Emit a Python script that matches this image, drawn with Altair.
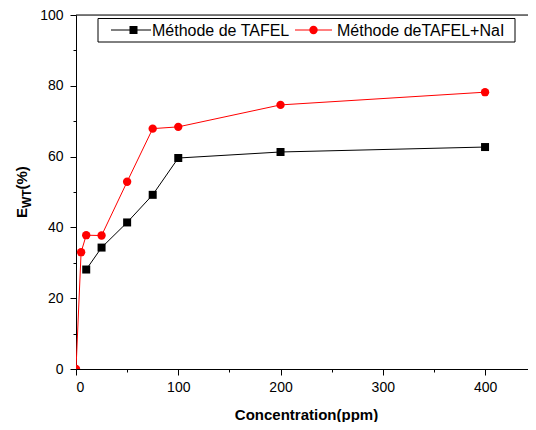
import altair as alt
import pandas as pd

# ---- data ----
conc_tafel = [10, 25, 50, 75, 100, 200, 400]
ewt_tafel = [28.1, 34.3, 41.4, 49.2, 59.6, 61.3, 62.7]
conc_nai = [0, 5, 10, 25, 50, 75, 100, 200, 400]
ewt_nai = [0, 33.0, 37.8, 37.7, 52.9, 67.9, 68.4, 74.6, 78.2]
series_names = ["Méthode de TAFEL", "Méthode deTAFEL+NaI"]
x_ticks = [0, 100, 200, 300, 400]
x_minor = [50, 150, 250, 350]
y_ticks = [0, 20, 40, 60, 80, 100]
y_minor = [10, 30, 50, 70, 90]
x_title = "Concentration(ppm)"
y_title_parts = ["E", "WT", "(%)"]

W, H = 452, 354
X_MAX = 442
FONT = "Liberation Sans"

df_t = pd.DataFrame({"c": conc_tafel, "e": ewt_tafel})
df_n = pd.DataFrame({"c": conc_nai, "e": ewt_nai})
one = alt.Data(values=[{}])

xs = alt.Scale(domain=[0, X_MAX], nice=False, zero=False)
ys = alt.Scale(domain=[0, 100], nice=False, zero=False)

x_axis = alt.Axis(values=x_ticks, tickSize=6, tickColor="black", domainColor="black",
                  labelFont=FONT, labelFontSize=14, labelColor="black", labelPadding=5,
                  title=x_title, titleFont=FONT, titleFontSize=15, titleFontWeight="bold",
                  titleColor="black", titleX=230, titleY=50, titleBaseline="alphabetic",
                  titleAlign="center", grid=False, format="d", orient="bottom")
y_axis = alt.Axis(values=y_ticks, tickSize=6, tickColor="black", domainColor="black",
                  labelFont=FONT, labelFontSize=14, labelColor="black", labelPadding=7,
                  title=None, grid=False, format="d", orient="left")
x_minor_axis = alt.Axis(values=x_minor, tickSize=3, tickColor="black", domain=False,
                        labels=False, title=None, grid=False, orient="bottom")
y_minor_axis = alt.Axis(values=y_minor, tickSize=3, tickColor="black", domain=False,
                        labels=False, title=None, grid=False, orient="left")

minor = alt.Chart(df_t).mark_line(opacity=0).encode(
    x=alt.X("c:Q", scale=xs, axis=x_minor_axis),
    y=alt.Y("e:Q", scale=ys, axis=y_minor_axis),
)
line_t = alt.Chart(df_t).mark_line(color="black", strokeWidth=1, clip=True).encode(
    x=alt.X("c:Q", scale=xs, axis=x_axis),
    y=alt.Y("e:Q", scale=ys, axis=y_axis),
)
pts_t = alt.Chart(df_t).mark_point(shape="square", filled=True, size=64, color="black",
                                   opacity=1, clip=True).encode(
    x=alt.X("c:Q", scale=xs, axis=None), y=alt.Y("e:Q", scale=ys, axis=None))
line_n = alt.Chart(df_n).mark_line(color="#ff0000", strokeWidth=1, clip=True).encode(
    x=alt.X("c:Q", scale=xs, axis=None), y=alt.Y("e:Q", scale=ys, axis=None))
pts_n = alt.Chart(df_n).mark_point(shape="circle", filled=True, size=70, color="#ff0000",
                                   opacity=1, clip=True).encode(
    x=alt.X("c:Q", scale=xs, axis=None), y=alt.Y("e:Q", scale=ys, axis=None))

# top frame line
top = alt.Chart(one).mark_rule(color="black", strokeWidth=1).encode(
    x=alt.value(0), x2=alt.value(W), y=alt.value(0))

# legend
leg_box = alt.Chart(one).mark_rect(fill="white", stroke="black", strokeWidth=1).encode(
    x=alt.value(22), x2=alt.value(439), y=alt.value(3.5), y2=alt.value(27))
leg_l1 = alt.Chart(one).mark_rule(color="black", strokeWidth=1).encode(
    x=alt.value(35), x2=alt.value(75), y=alt.value(15))
leg_p1 = alt.Chart(one).mark_point(shape="square", filled=True, size=64, color="black",
                                   opacity=1).encode(x=alt.value(57.5), y=alt.value(15))
leg_t1 = alt.Chart(one).mark_text(align="left", baseline="middle", font=FONT, fontSize=16,
                                  color="black").encode(
    x=alt.value(76), y=alt.value(15.5), text=alt.value(series_names[0]))
leg_l2 = alt.Chart(one).mark_rule(color="#ff0000", strokeWidth=1).encode(
    x=alt.value(219), x2=alt.value(256), y=alt.value(15))
leg_p2 = alt.Chart(one).mark_point(shape="circle", filled=True, size=70, color="#ff0000",
                                   opacity=1).encode(x=alt.value(237.5), y=alt.value(15))
leg_t2 = alt.Chart(one).mark_text(align="left", baseline="middle", font=FONT, fontSize=16,
                                  color="black").encode(
    x=alt.value(261), y=alt.value(15.5), text=alt.value(series_names[1]))

# y title with subscript
yt_e = alt.Chart(one).mark_text(angle=270, align="left", baseline="alphabetic", font=FONT,
                                fontSize=15, fontWeight="bold", color="black").encode(
    x=alt.value(-49), y=alt.value(203), text=alt.value(y_title_parts[0]))
yt_s = alt.Chart(one).mark_text(angle=270, align="left", baseline="alphabetic", font=FONT,
                                fontSize=12, fontWeight="bold", color="black").encode(
    x=alt.value(-45.5), y=alt.value(193), text=alt.value(y_title_parts[1]))
yt_p = alt.Chart(one).mark_text(angle=270, align="left", baseline="alphabetic", font=FONT,
                                fontSize=15, fontWeight="bold", color="black").encode(
    x=alt.value(-49), y=alt.value(174.5), text=alt.value(y_title_parts[2]))

chart = alt.layer(
    minor, line_t, pts_t, line_n, pts_n, top,
    leg_box, leg_l1, leg_p1, leg_t1, leg_l2, leg_p2, leg_t2,
    yt_e, yt_s, yt_p,
).resolve_axis(x="independent", y="independent").properties(
    width=W, height=H,
    autosize=alt.AutoSizeParams(type="none"),
    padding={"left": 68, "top": 7, "right": 0, "bottom": 53},
).configure_view(stroke=None).configure(background="white")

chart.save("out.html", embed_options={"renderer": "svg", "actions": False})
